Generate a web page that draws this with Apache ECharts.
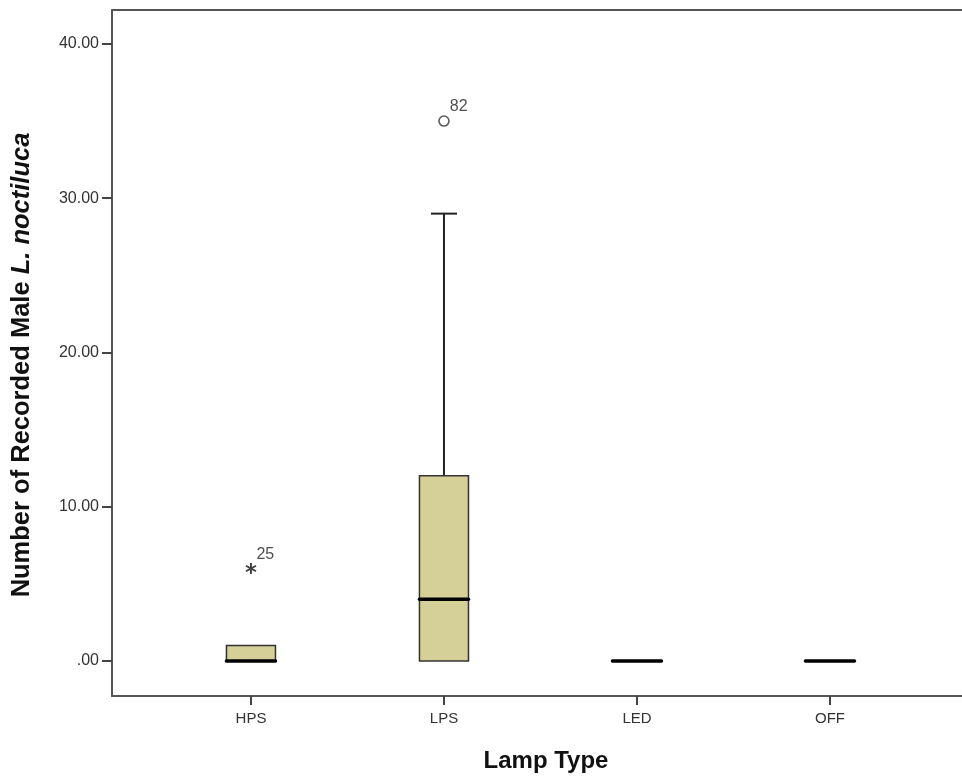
<!DOCTYPE html>
<html>
<head>
<meta charset="utf-8">
<script src="https://cdn.jsdelivr.net/npm/echarts@6/dist/echarts.min.js"></script>
<style>
  html, body { margin: 0; padding: 0; background: #fff; }
  #main { width: 962px; height: 780px; }
</style>
</head>
<body>
<div id="main"></div>
<script>
// lamp types and box summaries
var categories = ['HPS', 'LPS', 'LED', 'OFF'];
var whiskerLow = [0, 0, 0, 0];
var q1 = [0, 0, 0, 0];
var median = [0, 4, 0, 0];
var q3 = [1, 12, 0, 0];
var whiskerHigh = [1, 29, 0, 0];

// outliers: category index, value, case number, marker
var outlierCat = [0, 1];
var outlierVal = [6, 35];
var outlierId = ['25', '82'];
var outlierKind = ['extreme', 'outlier'];

var yTicks = [0, 10, 20, 30, 40];

var boxData = categories.map(function (c, i) {
  return [i, whiskerLow[i], q1[i], median[i], q3[i], whiskerHigh[i]];
});

var starPath = 'path://M5,0L7,0L7,12L5,12Z M0.3,3.87L1.3,2.13L11.7,8.13L10.7,9.87Z M1.3,9.87L0.3,8.13L10.7,2.13L11.7,3.87Z';

var outlierData = outlierCat.map(function (c, i) {
  var extreme = outlierKind[i] === 'extreme';
  return {
    value: [c, outlierVal[i]],
    name: outlierId[i],
    symbol: extreme ? starPath : 'circle',
    symbolSize: extreme ? 11 : 10,
    itemStyle: extreme
      ? { color: '#111', borderWidth: 0 }
      : { color: '#fff', borderColor: '#333', borderWidth: 1.6 }
  };
});

function renderBox(params, api) {
  var i = api.value(0);
  var pLo = api.coord([i, api.value(1)]);
  var pQ1 = api.coord([i, api.value(2)]);
  var pMed = api.coord([i, api.value(3)]);
  var pQ3 = api.coord([i, api.value(4)]);
  var pHi = api.coord([i, api.value(5)]);
  var band = api.size([1, 0])[0];
  var bw = band * 0.254;
  var cw = band * 0.135;
  var x = pMed[0];
  var line = { stroke: '#222', lineWidth: 2 };
  var kids = [];
  if (pHi[1] < pQ3[1] - 0.5) {
    kids.push({ type: 'line', shape: { x1: x, y1: pQ3[1], x2: x, y2: pHi[1] }, style: line });
    kids.push({ type: 'line', shape: { x1: x - cw / 2, y1: pHi[1], x2: x + cw / 2, y2: pHi[1] }, style: line });
  }
  if (pLo[1] > pQ1[1] + 0.5) {
    kids.push({ type: 'line', shape: { x1: x, y1: pQ1[1], x2: x, y2: pLo[1] }, style: line });
    kids.push({ type: 'line', shape: { x1: x - cw / 2, y1: pLo[1], x2: x + cw / 2, y2: pLo[1] }, style: line });
  }
  if (pQ1[1] - pQ3[1] > 0.5) {
    kids.push({
      type: 'rect',
      shape: { x: x - bw / 2, y: pQ3[1], width: bw, height: pQ1[1] - pQ3[1] },
      style: { fill: '#D5CF98', stroke: '#333', lineWidth: 1.5 }
    });
  }
  kids.push({
    type: 'line',
    shape: { x1: x - bw / 2, y1: pMed[1], x2: x + bw / 2, y2: pMed[1] },
    style: { stroke: '#000', lineWidth: 3.5, lineCap: 'round' }
  });
  return { type: 'group', children: kids };
}

var chart = echarts.init(document.getElementById('main'), null, { renderer: 'canvas' });
chart.setOption({
  animation: false,
  backgroundColor: '#fff',
  grid: { left: 112, top: 10, right: 0, bottom: 84 },
  xAxis: [{
    type: 'value',
    min: -0.72,
    max: 3.684,
    name: 'Lamp Type',
    nameLocation: 'middle',
    nameGap: 53,
    nameTextStyle: {
      fontFamily: 'Liberation Sans', fontWeight: 'bold', fontSize: 24, color: '#111',
      padding: [0, 0, 0, 18]
    },
    splitLine: { show: false },
    axisLine: { onZero: false, lineStyle: { color: '#555', width: 2 } },
    axisTick: { customValues: [0, 1, 2, 3], length: 9, lineStyle: { color: '#444', width: 2 } },
    axisLabel: {
      customValues: [0, 1, 2, 3],
      margin: 15,
      fontFamily: 'Liberation Sans',
      fontSize: 15,
      color: '#333',
      formatter: function (v) { return categories[Math.round(v)]; }
    }
  }, {
    type: 'value',
    position: 'top',
    min: -0.72,
    max: 3.684,
    splitLine: { show: false },
    axisLine: { onZero: false, lineStyle: { color: '#555', width: 2 } },
    axisTick: { show: false },
    axisLabel: { show: false }
  }],
  yAxis: {
    type: 'value',
    min: -2.27,
    max: 42.2,
    name: '{n|Number of Recorded Male }{i|L. noctiluca}',
    nameLocation: 'middle',
    nameGap: 77,
    nameTextStyle: {
      padding: [0, 24, 0, 0],
      rich: {
        n: { fontFamily: 'Liberation Sans', fontWeight: 'bold', fontSize: 25.5, color: '#111' },
        i: { fontFamily: 'Liberation Sans', fontWeight: 'bold', fontStyle: 'italic', fontSize: 25.5, color: '#111' }
      }
    },
    splitLine: { show: false },
    axisLine: { onZero: false, lineStyle: { color: '#555', width: 2 } },
    axisTick: { customValues: yTicks, length: 10, lineStyle: { color: '#444', width: 2 } },
    axisLabel: {
      customValues: yTicks,
      margin: 13,
      fontFamily: 'Liberation Sans',
      fontSize: 16,
      color: '#333',
      formatter: function (v) { return v === 0 ? '.00' : v.toFixed(2); }
    }
  },
  series: [{
    type: 'custom',
    renderItem: renderBox,
    encode: { x: 0, y: [1, 2, 3, 4, 5] },
    data: boxData,
    silent: true
  }, {
    type: 'scatter',
    data: outlierData,
    label: {
      show: true,
      position: 'right',
      offset: [-5, -14],
      formatter: '{b}',
      fontFamily: 'Liberation Sans',
      fontSize: 16,
      color: '#222'
    },
    silent: true
  }]
});
</script>
</body>
</html>
